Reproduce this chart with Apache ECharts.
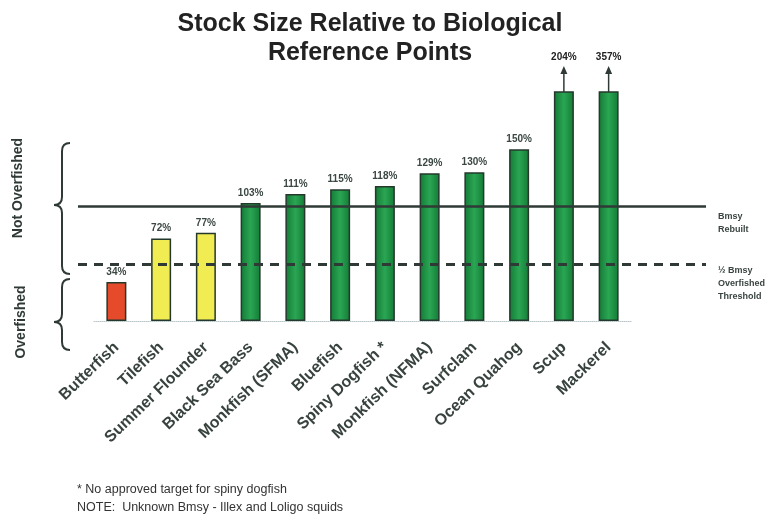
<!DOCTYPE html>
<html>
<head>
<meta charset="utf-8">
<script src="https://cdn.jsdelivr.net/npm/echarts@6/dist/echarts.min.js"></script>
<style>
  html, body { margin: 0; padding: 0; background: #fff; }
  #chart { width: 783px; height: 524px; }
</style>
</head>
<body>
<div id="chart"></div>
<script>
const species = ['Butterfish', 'Tilefish', 'Summer Flounder', 'Black Sea Bass', 'Monkfish (SFMA)', 'Bluefish',
  'Spiny Dogfish *', 'Monkfish (NFMA)', 'Surfclam', 'Ocean Quahog', 'Scup', 'Mackerel'];
const stockPct = [34, 72, 77, 103, 111, 115, 118, 129, 130, 150, 204, 357];
const bmsyPct = 100;        // Bmsy (rebuilt)
const thresholdPct = 50;    // 1/2 Bmsy overfished threshold
const axisMax = 200;        // bars above this get cut off and an arrow

const ink = '#2f3a36';
const font = '"Liberation Sans", Arial, sans-serif';

const chart = echarts.init(document.getElementById('chart'));

const green = new echarts.graphic.LinearGradient(0, 0, 1, 0, [
  { offset: 0, color: '#137a36' },
  { offset: 0.5, color: '#2aa653' },
  { offset: 1, color: '#137a36' },
]);

function barColor(v) {
  if (v < thresholdPct) return '#e54b2a';
  if (v < bmsyPct) return '#f1ec52';
  return green;
}

// hand drawn curly braces on the left
function brace(top, tip, bottom) {
  const x = 62, r = 8;
  const s = { stroke: ink, lineWidth: 2, fill: null };
  return [
    { type: 'bezierCurve', shape: { x1: x + r, y1: top, x2: x, y2: top + r, cpx1: x, cpy1: top }, style: s },
    { type: 'line', shape: { x1: x, y1: top + r, x2: x, y2: tip - r }, style: s },
    { type: 'bezierCurve', shape: { x1: x, y1: tip - r, x2: x - r, y2: tip, cpx1: x, cpy1: tip }, style: s },
    { type: 'bezierCurve', shape: { x1: x - r, y1: tip, x2: x, y2: tip + r, cpx1: x, cpy1: tip }, style: s },
    { type: 'line', shape: { x1: x, y1: tip + r, x2: x, y2: bottom - r }, style: s },
    { type: 'bezierCurve', shape: { x1: x, y1: bottom - r, x2: x + r, y2: bottom, cpx1: x, cpy1: bottom }, style: s },
  ];
}

const staticGraphics = [
  ...brace(143, 205, 274),
  ...brace(279, 322, 350),
  {
    type: 'text', x: 18, y: 188, rotation: Math.PI / 2,
    style: { text: 'Not Overfished', font: 'bold 14px ' + font, fill: ink, align: 'center', verticalAlign: 'middle' },
  },
  {
    type: 'text', x: 21, y: 322, rotation: Math.PI / 2,
    style: { text: 'Overfished', font: 'bold 14px ' + font, fill: ink, align: 'center', verticalAlign: 'middle' },
  },
  {
    type: 'text', left: 77, top: 481,
    style: {
      text: '* No approved target for spiny dogfish\nNOTE:  Unknown Bmsy - Illex and Loligo squids',
      font: '12.5px ' + font, fill: '#333', lineHeight: 18,
    },
  },
];

chart.setOption({
  animation: false,
  backgroundColor: '#fff',
  title: {
    text: 'Stock Size Relative to Biological\nReference Points',
    left: 365, top: 5, textAlign: 'center',
    textStyle: { fontFamily: font, fontSize: 25, fontWeight: 'bold', color: '#222', lineHeight: 29 },
  },
  grid: [
    { left: 94, right: 152, top: 92, bottom: 203 },
    { left: 78, right: 77, top: 92, bottom: 203 },
  ],
  xAxis: [
    {
      type: 'category', gridIndex: 0, data: species,
      axisLine: { lineStyle: { color: '#b9c6c9', type: 'dotted', width: 1 } },
      axisTick: { show: false },
      axisLabel: {
        rotate: 44, interval: 0, margin: 24,
        fontFamily: font, fontSize: 16, fontWeight: 'bold', color: '#38433e',
      },
    },
    { type: 'value', gridIndex: 1, min: 0, max: 1, show: false },
  ],
  yAxis: [
    { type: 'value', gridIndex: 0, min: 0, max: axisMax, show: false },
    { type: 'value', gridIndex: 1, min: 0, max: axisMax, show: false },
  ],
  series: [
    {
      type: 'bar', xAxisIndex: 0, yAxisIndex: 0,
      barWidth: 20, clip: true, z: 2,
      itemStyle: { borderColor: '#25382c', borderWidth: 1.5 },
      label: {
        show: true, position: 'top', distance: 5,
        formatter: '{c}%',
        fontFamily: '"Liberation Sans Narrow", ' + font, fontSize: 10, fontWeight: 'bold', color: '#3b4742',
      },
      data: stockPct.map(v => ({
        value: v,
        itemStyle: { color: barColor(v) },
        label: v > axisMax ? { distance: 29, color: '#222' } : {},
      })),
    },
    {
      type: 'line', xAxisIndex: 1, yAxisIndex: 1, data: [], z: 5,
      markLine: {
        silent: true, symbol: ['none', 'none'], z: 5,
        label: {
          position: 'end', distance: 12, align: 'left', verticalAlign: 'top',
          fontFamily: font, fontSize: 9, fontWeight: 'bold', color: '#39443f', lineHeight: 13,
        },
        data: [
          {
            yAxis: bmsyPct,
            lineStyle: { color: ink, width: 2.5, type: 'solid' },
            label: { formatter: 'Bmsy\nRebuilt', padding: [4, 0, 0, 0] },
          },
          {
            yAxis: thresholdPct,
            lineStyle: { color: ink, width: 3, type: [9, 7] },
            label: { formatter: '½ Bmsy\nOverfished\nThreshold', padding: [0, 0, 0, 0] },
          },
        ],
      },
    },
  ],
  graphic: staticGraphics,
});

// arrows for the bars that run off the top
const arrows = [];
stockPct.forEach((v, i) => {
  if (v <= axisMax) return;
  const p = chart.convertToPixel({ gridIndex: 0 }, [species[i], axisMax]);
  arrows.push({
    type: 'line', z: 10,
    shape: { x1: p[0], y1: p[1], x2: p[0], y2: p[1] - 20 },
    style: { stroke: ink, lineWidth: 1.5 },
  });
  arrows.push({
    type: 'polygon', z: 10,
    shape: { points: [[p[0] - 3.5, p[1] - 18], [p[0] + 3.5, p[1] - 18], [p[0], p[1] - 26]] },
    style: { fill: ink },
  });
});
chart.setOption({ graphic: staticGraphics.concat(arrows) });
</script>
</body>
</html>
